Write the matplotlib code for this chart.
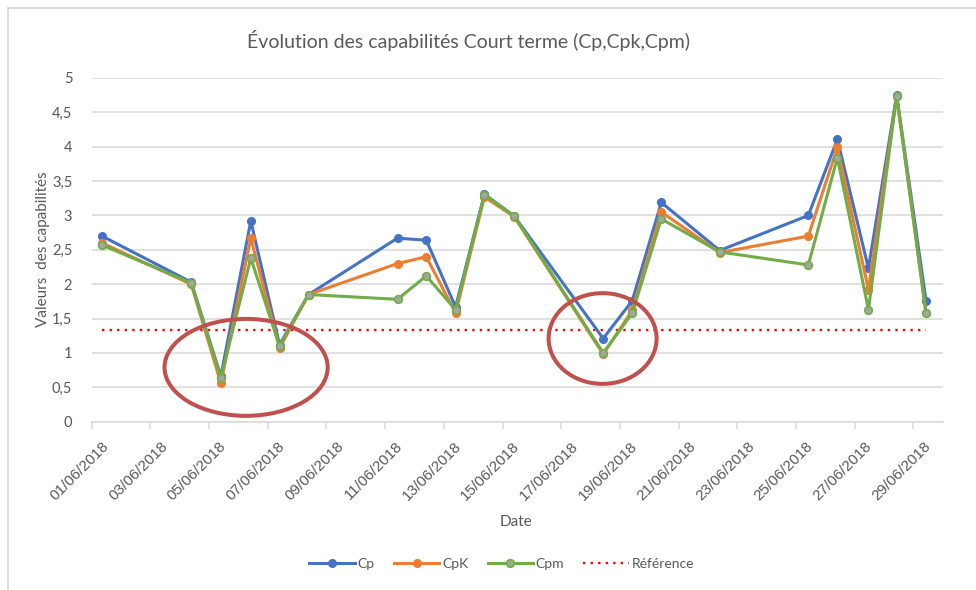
import numpy as np
import pandas as pd
import matplotlib
matplotlib.use("Agg")
import matplotlib.pyplot as plt
import matplotlib.dates as mdates
from matplotlib.patches import Ellipse
from matplotlib.lines import Line2D
from matplotlib.transforms import ScaledTranslation

# mesures court terme (date/heure du relevé)
dates = ["2018-06-01 08:25", "2018-06-04 09:20", "2018-06-05 09:35", "2018-06-06 10:05",
         "2018-06-07 09:35", "2018-06-08 09:20", "2018-06-11 10:05", "2018-06-12 09:35",
         "2018-06-13 09:35", "2018-06-14 09:10", "2018-06-15 09:35", "2018-06-18 10:20",
         "2018-06-19 10:05", "2018-06-20 09:50", "2018-06-22 09:35", "2018-06-25 10:05",
         "2018-06-26 09:50", "2018-06-27 11:15", "2018-06-28 10:20", "2018-06-29 10:20"]
cp = [2.70, 2.03, 0.66, 2.92, 1.12, 1.85, 2.67, 2.64, 1.67, 3.31,
      2.99, 1.21, 1.76, 3.19, 2.49, 3.00, 4.11, 2.23, 4.75, 1.76]
cpk = [2.60, 2.00, 0.56, 2.67, 1.07, 1.85, 2.30, 2.40, 1.58, 3.27,
       2.98, 0.98, 1.62, 3.05, 2.46, 2.70, 3.99, 1.92, 4.74, 1.58]
cpm = [2.57, 2.02, 0.64, 2.38, 1.10, 1.85, 1.78, 2.12, 1.63, 3.30,
       2.99, 1.00, 1.58, 2.95, 2.47, 2.28, 3.84, 1.63, 4.74, 1.58]
reference = 1.33

df = pd.DataFrame({"Date": pd.to_datetime(dates), "Cp": cp, "CpK": cpk, "Cpm": cpm})
df["Référence"] = reference

BLUE = "#4472C4"
ORANGE = "#ED7D31"
GREEN = "#70AD47"
GREY_MK = "#A5A5A5"
GRID = "#D9D9D9"
TXT = "#595959"
FONT = "Lato"

fig = plt.figure(figsize=(9.76, 5.90), dpi=100)
ax = fig.add_axes([0.094, 0.2853, 0.8719, 0.5825])

x = mdates.date2num(df["Date"])
ax.plot(x, df["Cp"], color=BLUE, lw=2.2, marker="o", ms=5.5,
        mfc=BLUE, mec=BLUE, label="Cp", zorder=3)
ax.plot(x, df["CpK"], color=ORANGE, lw=2.2, marker="o", ms=5.5,
        mfc=ORANGE, mec=ORANGE, label="CpK", zorder=4)
ax.plot(x, df["Cpm"], color=GREEN, lw=2.2, marker="o", ms=5.5,
        mfc=GREY_MK, mec=GREEN, mew=1.2, label="Cpm", zorder=5)
ax.plot(x, df["Référence"], color="#FF0000", lw=1.7, dashes=(1, 2.2),
        dash_capstyle="butt", label="Référence", zorder=2)

# zones entourées (passages sous la référence)
e1_c = mdates.date2num(pd.Timestamp("2018-06-06 06:15"))
e2_c = mdates.date2num(pd.Timestamp("2018-06-18 09:50"))
for cx, cy, w, h in [(e1_c, 0.79, 5.56, 1.41), (e2_c, 1.21, 3.68, 1.32)]:
    ax.add_patch(Ellipse((cx, cy), w, h, fill=False, ec="#C0504D", lw=2.9, zorder=6))

ax.set_xlim(mdates.date2num(pd.Timestamp("2018-06-01")),
            mdates.date2num(pd.Timestamp("2018-06-30")))
ax.set_ylim(0, 5)
ax.set_yticks(np.arange(0, 5.01, 0.5))
ax.set_yticklabels([f"{v:g}".replace(".", ",") for v in np.arange(0, 5.01, 0.5)])
ax.xaxis.set_major_locator(mdates.DayLocator(bymonthday=range(1, 30, 2)))
ax.xaxis.set_major_formatter(mdates.DateFormatter("%d/%m/%Y"))

ax.grid(axis="y", color=GRID, lw=1.1)
ax.set_axisbelow(True)
for s in ["top", "right", "left"]:
    ax.spines[s].set_visible(False)
ax.spines["bottom"].set_color(GRID)
ax.spines["bottom"].set_linewidth(1.1)
ax.tick_params(axis="y", length=0, pad=14, labelsize=10.5, labelcolor=TXT)
ax.tick_params(axis="x", length=5, color=GRID, width=1.1, pad=11,
               labelsize=11, labelcolor=TXT)
for lab in ax.get_yticklabels():
    lab.set_fontfamily(FONT)
offset = ScaledTranslation(0.15, 0, fig.dpi_scale_trans)
for lab in ax.get_xticklabels():
    lab.set_fontfamily("Liberation Sans")
    lab.set_rotation(45)
    lab.set_ha("right")
    lab.set_va("center")
    lab.set_rotation_mode("anchor")
    lab.set_transform(lab.get_transform() + offset)

fig.text(0.4805, 0.932, "Évolution des capabilités Court terme (Cp,Cpk,Cpm)",
         ha="center", va="center", fontsize=14, color=TXT, family=FONT)
fig.text(0.0445, 0.578, "Valeurs  des capabilités", rotation=90,
         ha="center", va="center", fontsize=11, color=TXT, family=FONT)
fig.text(0.529, 0.115, "Date", ha="center", va="center",
         fontsize=11, color=TXT, family=FONT)

handles, labels = ax.get_legend_handles_labels()
leg = fig.legend(handles, labels, loc="center", bbox_to_anchor=(0.514, 0.044),
                 ncol=4, frameon=False, handlelength=3.25, handletextpad=0.2,
                 columnspacing=1.4, prop={"family": FONT, "size": 10})
for t in leg.get_texts():
    t.set_color(TXT)

# cadre du graphique
fig.add_artist(Line2D([7.5 / 976, 7.5 / 976], [0, 1 - 7.5 / 590],
                      transform=fig.transFigure, color=GRID, lw=1.3))
fig.add_artist(Line2D([7.5 / 976, 1], [1 - 7.5 / 590, 1 - 7.5 / 590],
                      transform=fig.transFigure, color=GRID, lw=1.3))

fig.savefig("out.png", dpi=100)
